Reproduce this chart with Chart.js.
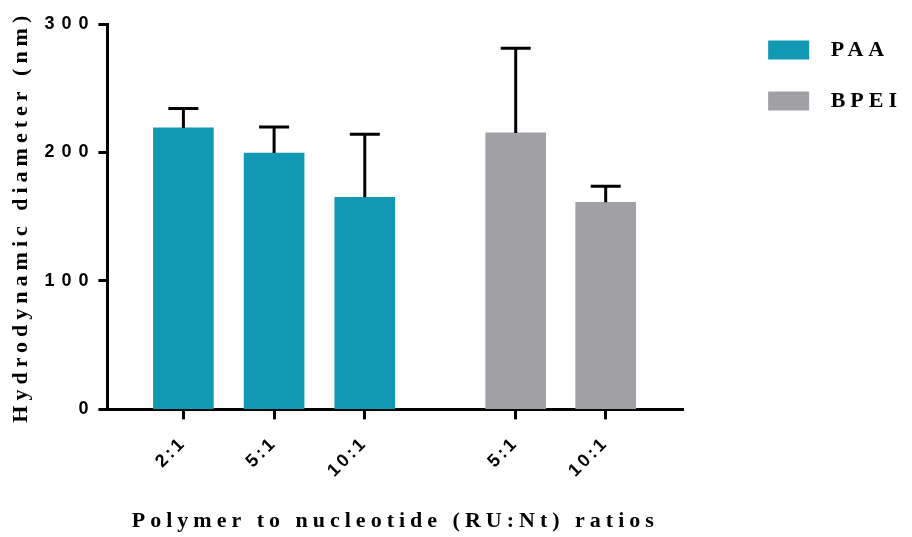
<!DOCTYPE html>
<html>
<head>
<meta charset="utf-8">
<script src="https://cdn.jsdelivr.net/npm/chart.js@4.4.1/dist/chart.umd.min.js"></script>
<style>
  html, body { margin: 0; padding: 0; background: #fff; }
  #wrap { width: 912px; height: 537px; }
</style>
</head>
<body>
<div id="wrap"><canvas id="myChart" width="912" height="537"></canvas></div>
<script>
// values
const paaLabels = ['2:1', '5:1', '10:1'];
const paaPos = [1, 2, 3];
const paaMean = [219.1, 199.5, 165.1];
const paaSd = [15.2, 20.4, 49.1];

const bpeiLabels = ['5:1', '10:1'];
const bpeiPos = [4.664, 5.656];
const bpeiMean = [215.2, 161.2];
const bpeiSd = [66, 12.5];

const tickPos = paaPos.concat(bpeiPos);
const tickLabels = paaLabels.concat(bpeiLabels);

const teal = '#1199b4';
const grey = '#a1a0a5';

function toPoints(xs, ys) {
  return xs.map((x, i) => ({ x: x, y: ys[i] }));
}

// run a method with a given canvas letter spacing
function withSpacing(obj, method, sp) {
  const orig = obj[method];
  obj[method] = function () {
    const c = this.ctx;
    const prev = c.letterSpacing;
    c.letterSpacing = sp;
    try { return orig.apply(this, arguments); }
    finally { c.letterSpacing = prev; }
  };
}

const spacing = {
  id: 'spacing',
  beforeLayout(chart) {
    if (chart._spaced) return;
    chart._spaced = true;
    const sx = chart.scales.x, sy = chart.scales.y;
    withSpacing(sx, 'update', '3px');
    withSpacing(sx, 'drawLabels', '3px');
    withSpacing(sx, 'drawTitle', '5px');
    withSpacing(sy, 'update', '7px');
    withSpacing(sy, 'drawLabels', '7px');
    withSpacing(sy, 'drawTitle', '5px');
    withSpacing(chart.legend, 'fit', '5px');
    withSpacing(chart.legend, 'draw', '5px');
  }
};

// upper error bars (mean + SD)
const errorBars = {
  id: 'errorBars',
  afterDatasetsDraw(chart) {
    const ctx = chart.ctx;
    const x = chart.scales.x, y = chart.scales.y;
    const sets = [[paaPos, paaMean, paaSd], [bpeiPos, bpeiMean, bpeiSd]];
    ctx.save();
    ctx.strokeStyle = '#000';
    ctx.lineWidth = 3;
    sets.forEach(s => {
      s[0].forEach((p, i) => {
        const px = x.getPixelForValue(p);
        const yTop = y.getPixelForValue(s[1][i]);
        const yErr = y.getPixelForValue(s[1][i] + s[2][i]);
        ctx.beginPath();
        ctx.moveTo(px, yTop);
        ctx.lineTo(px, yErr);
        ctx.moveTo(px - 15, yErr);
        ctx.lineTo(px + 15, yErr);
        ctx.stroke();
      });
    });
    ctx.restore();
  }
};

// invisible scale used only to hold space in the layout
function spacer(position, size) {
  return {
    type: 'linear',
    position: position,
    display: true,
    grid: { display: false },
    border: { display: false },
    ticks: { display: false },
    afterFit(scale) {
      if (position === 'top') scale.height = size;
      else scale.width = size;
    }
  };
}

new Chart(document.getElementById('myChart'), {
  type: 'bar',
  data: {
    datasets: [
      { label: 'PAA', data: toPoints(paaPos, paaMean), backgroundColor: teal, grouped: false, barThickness: 60 },
      { label: 'BPEI', data: toPoints(bpeiPos, bpeiMean), backgroundColor: grey, grouped: false, barThickness: 60 }
    ]
  },
  options: {
    responsive: false,
    animation: false,
    devicePixelRatio: 1,
    layout: { padding: { left: 3, top: 10, right: 0, bottom: 2 } },
    plugins: {
      tooltip: { enabled: false },
      legend: {
        position: 'right',
        align: 'start',
        maxWidth: 220,
        labels: {
          boxWidth: 41,
          boxHeight: 19,
          padding: 29,
          color: '#000',
          font: { family: 'Liberation Serif', weight: 'bold', size: 22 },
          generateLabels(chart) {
            const items = Chart.defaults.plugins.legend.labels.generateLabels(chart);
            items.forEach(it => { it.text = ' ' + it.text; it.lineWidth = 0; });
            return items;
          }
        }
      }
    },
    scales: {
      x: {
        type: 'linear',
        offset: false,
        min: 0.1625,
        max: 6.51,
        afterBuildTicks(scale) {
          scale.ticks = tickPos.map(v => ({ value: v }));
        },
        ticks: {
          minRotation: 45,
          maxRotation: 45,
          padding: 13,
          color: '#000',
          font: { family: 'Liberation Sans', weight: 'bold', size: 18 },
          callback: (v, i) => tickLabels[i]
        },
        grid: { offset: false, drawOnChartArea: false, tickLength: 10, tickWidth: 3, tickColor: '#000' },
        border: { color: '#000', width: 3 },
        title: {
          display: true,
          text: 'Polymer to nucleotide (RU:Nt) ratios',
          color: '#000',
          font: { family: 'Liberation Serif', weight: 'bold', size: 22 },
          padding: { top: 14, bottom: 0 }
        }
      },
      y: {
        min: 0,
        max: 300,
        ticks: {
          stepSize: 100,
          padding: 3,
          color: '#000',
          font: { family: 'Liberation Sans', weight: 'bold', size: 18 }
        },
        grid: { drawOnChartArea: false, tickLength: 9, tickWidth: 3, tickColor: '#000' },
        border: { color: '#000', width: 3 },
        title: {
          display: true,
          text: 'Hydrodynamic diameter (nm)',
          color: '#000',
          font: { family: 'Liberation Serif', weight: 'bold', size: 22 },
          padding: { top: 5, bottom: 7 }
        }
      },
      padTop: spacer('top', 14),
      padRight: spacer('right', 56)
    }
  },
  plugins: [spacing, errorBars]
});
</script>
</body>
</html>
